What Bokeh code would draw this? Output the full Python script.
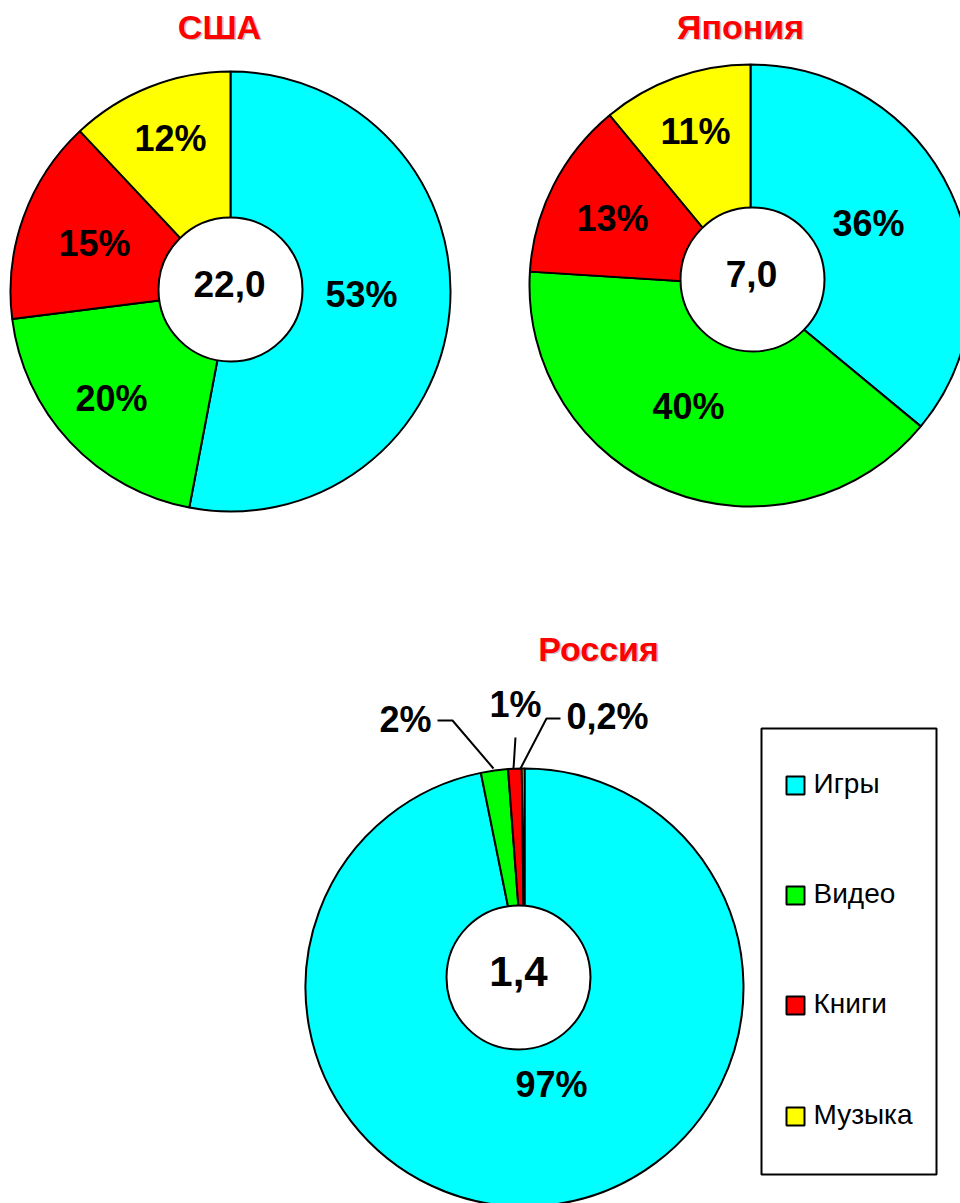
import math
from bokeh.plotting import figure
from bokeh.models import Range1d
from bokeh.core.properties import value
from bokeh.embed import file_html
from bokeh.resources import INLINE

# ---------------- data ----------------
categories = ["Игры", "Видео", "Книги", "Музыка"]
colors = ["#00FFFF", "#00FF00", "#FF0000", "#FFFF00"]

titles = ["США", "Япония", "Россия"]
usa_values = [53, 20, 15, 12]
japan_values = [36, 40, 13, 11]
russia_values = [97, 2, 1, 0.2]
usa_labels = ["53%", "20%", "15%", "12%"]
japan_labels = ["36%", "40%", "13%", "11%"]
russia_labels = ["97%", "2%", "1%", "0,2%"]
totals = ["22,0", "7,0", "1,4"]

# ---------------- layout (page pixel coordinates) ----------------
W, H = 960, 1203

def Y(py):
    return H - py

def TY(py, size):
    # baseline correction for text glyphs
    return H - (py - 0.4 * size)

FONT = value("Liberation Sans")

p = figure(width=W, height=H, output_backend="svg", toolbar_location=None,
           x_range=Range1d(0, W), y_range=Range1d(0, H),
           min_border=0)
p.axis.visible = False
p.grid.visible = False
p.outline_line_color = None
p.background_fill_color = "white"
p.border_fill_color = "white"

pies = [
    dict(vals=usa_values, labels=usa_labels, total=totals[0], title=titles[0],
         c=(230, 291), r=220, inner=(230, 289), ir=72,
         title_pos=(219, 40), total_pos=(229, 298), total_size=37,
         label_pos=[(361, 308), (111, 412), (94, 257), (170, 152)]),
    dict(vals=japan_values, labels=japan_labels, total=totals[1], title=titles[1],
         c=(750, 285), r=221, inner=(752, 279), ir=72,
         title_pos=(740, 40), total_pos=(751, 288), total_size=37,
         label_pos=[(868, 237), (688, 420), (612, 232), (695, 145)]),
    dict(vals=russia_values, labels=russia_labels, total=totals[2], title=titles[2],
         c=(524, 987), r=219, inner=(518, 977), ir=72,
         title_pos=(598, 662), total_pos=(518, 988), total_size=42,
         label_pos=[(551, 1098), (405, 733), (515, 718), (607, 730)]),
]

LBL = 36
TTL = 34
for pie in pies:
    vals = pie["vals"]
    tot = float(sum(vals))
    cx, cy = pie["c"]
    cum = 0.0
    starts, ends = [], []
    for v in vals:
        starts.append(math.pi / 2 - 2 * math.pi * cum / tot)
        cum += v
        ends.append(math.pi / 2 - 2 * math.pi * cum / tot)
    p.wedge(x=[cx] * len(vals), y=[Y(cy)] * len(vals), radius=pie["r"],
            start_angle=starts, end_angle=ends, direction="clock",
            fill_color=colors, line_color="black", line_width=2)
    ix, iy = pie["inner"]
    p.circle(x=[ix], y=[Y(iy)], radius=pie["ir"], fill_color="white",
             line_color="black", line_width=2)
    xs = [lp[0] for lp in pie["label_pos"]]
    ys = [TY(lp[1], LBL) for lp in pie["label_pos"]]
    p.text(x=xs, y=ys, text=pie["labels"], text_align="center",
           text_baseline="alphabetic", text_font=FONT, text_font_style="bold",
           text_font_size=f"{LBL}px", text_color="black")
    tx, ty = pie["total_pos"]
    ts = pie["total_size"]
    p.text(x=[tx], y=[TY(ty, ts)], text=[pie["total"]], text_align="center",
           text_baseline="alphabetic", text_font=FONT, text_font_style="bold",
           text_font_size=f"{ts}px", text_color="black")
    ttx, tty = pie["title_pos"]
    p.text(x=[ttx + 1.5], y=[TY(tty + 1.5, TTL)], text=[pie["title"]], text_align="center",
           text_baseline="alphabetic", text_font=FONT, text_font_style="bold",
           text_font_size=f"{TTL}px", text_color="#999999", text_alpha=0.6)
    p.text(x=[ttx], y=[TY(tty, TTL)], text=[pie["title"]], text_align="center",
           text_baseline="alphabetic", text_font=FONT, text_font_style="bold",
           text_font_size=f"{TTL}px", text_color="#FF0000")

# leader lines for the Russian small slices
leaders = [
    [(437, 720), (452, 720), (493, 768)],
    [(515, 737), (513, 768)],
    [(560, 718), (546, 718), (520, 768)],
]
for pts in leaders:
    p.line(x=[a for a, b in pts], y=[Y(b) for a, b in pts], line_color="black", line_width=2)

# legend
lx0, ly0, lx1, ly1 = 761, 728, 936, 1174
p.quad(left=[lx0], right=[lx1], top=[Y(ly0)], bottom=[Y(ly1)], fill_color="white",
       line_color="black", line_width=2)
leg_y = [785, 895, 1005, 1116]
LEG = 28
p.scatter(x=[795] * 4, y=[Y(v) for v in leg_y], marker="square", size=18,
          fill_color=colors, line_color="black", line_width=2)
p.text(x=[813] * 4, y=[TY(v + 9, LEG) for v in leg_y], text=categories, text_align="left",
       text_baseline="alphabetic", text_font=FONT, text_font_size=f"{LEG}px", text_color="black")

open("out.html", "w").write(file_html(p, INLINE))
